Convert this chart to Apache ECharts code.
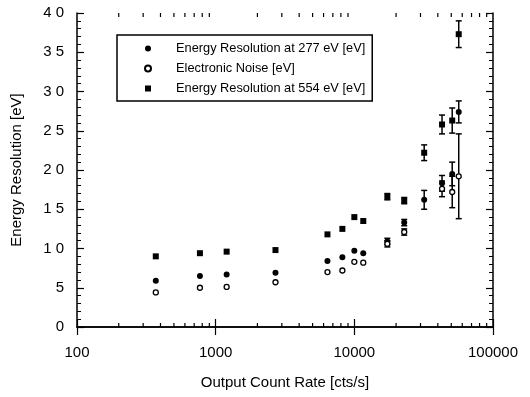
<!DOCTYPE html>
<html>
<head>
<meta charset="utf-8">
<script src="https://cdn.jsdelivr.net/npm/echarts@6/dist/echarts.min.js"></script>
<style>html,body{margin:0;padding:0;background:#fff}#c{width:530px;height:397px}</style>
</head>
<body>
<div id="c"></div>
<script>
// Output count rates [cts/s]
var rates    = [370, 770, 1200, 2700, 6400, 8200, 10000, 11600, 17300, 22900, 31900, 42900, 50800, 56600];
// Energy resolution at 277 eV [eV]
var res277   = [5.9, 6.5, 6.7, 6.9, 8.4, 8.9, 9.7, 9.4, 10.9, 13.3, 16.2, 18.3, 19.5, 27.4];
var err277   = [0, 0, 0, 0, 0, 0, 0, 0, 0.4, 0.4, 1.2, 1.0, 1.5, 1.4];
// Electronic noise [eV]
var noise    = [4.4, 5.0, 5.1, 5.7, 7.0, 7.2, 8.3, 8.2, 10.6, 12.1, null, 17.6, 17.2, 19.2];
var errNoise = [0, 0, 0, 0, 0, 0, 0, 0, 0.4, 0.4, 0, 1.0, 2.0, 5.4];
// Energy resolution at 554 eV [eV]
var res554   = [9.0, 9.4, 9.6, 9.8, 11.8, 12.5, 14.0, 13.5, 16.6, 16.1, 22.2, 25.8, 26.3, 37.3];
var err554   = [0, 0, 0, 0, 0, 0, 0, 0, 0.4, 0.4, 1.0, 1.2, 1.6, 1.7];
// Tick values
var xTicks      = [100, 1000, 10000, 100000];
var xMinorTicks = [200,300,400,500,600,700,800,900,2000,3000,4000,5000,6000,7000,8000,9000,20000,30000,40000,50000,60000,70000,80000,90000];

var names = ['Energy Resolution at 277 eV [eV]', 'Electronic Noise [eV]', 'Energy Resolution at 554 eV [eV]'];
var icons = ['circle', 'circle', 'rect'];

function pairs(ys) {
  var out = [];
  for (var i = 0; i < rates.length; i++) if (ys[i] != null) out.push([rates[i], ys[i]]);
  return out;
}
function triples(ys, es) {
  var out = [];
  for (var i = 0; i < rates.length; i++) if (ys[i] != null && es[i] > 0) out.push([rates[i], ys[i], es[i]]);
  return out;
}
function errRender(params, api) {
  var x = api.value(0), y = api.value(1), e = api.value(2);
  var lo = api.coord([x, y - e]), hi = api.coord([x, y + e]);
  var c = 3;
  return {
    type: 'group',
    children: [
      {type: 'line', shape: {x1: lo[0], y1: lo[1], x2: hi[0], y2: hi[1]}, style: {stroke: '#000', lineWidth: 1.5}},
      {type: 'line', shape: {x1: lo[0]-c, y1: lo[1], x2: lo[0]+c, y2: lo[1]}, style: {stroke: '#000', lineWidth: 1.5}},
      {type: 'line', shape: {x1: hi[0]-c, y1: hi[1], x2: hi[0]+c, y2: hi[1]}, style: {stroke: '#000', lineWidth: 1.5}}
    ]
  };
}
function minorRender(params, api) {
  var v = api.value(0);
  var b = api.coord([v, 0]), t = api.coord([v, 40]);
  return {
    type: 'group',
    children: [
      {type: 'line', shape: {x1: b[0], y1: b[1], x2: b[0], y2: b[1]-4}, style: {stroke: '#000', lineWidth: 1.2}},
      {type: 'line', shape: {x1: t[0], y1: t[1], x2: t[0], y2: t[1]+4}, style: {stroke: '#000', lineWidth: 1.2}}
    ]
  };
}

var chart = echarts.init(document.getElementById('c'), null, {renderer: 'canvas'});
var axisFont = 'Liberation Sans, Arial, sans-serif';
var baseY = {
  type: 'value', min: 0, max: 40, interval: 5,
  axisLine: {show: true, lineStyle: {color: '#000', width: 1.5}},
  axisTick: {show: true, inside: true, length: 7, lineStyle: {color: '#000', width: 1.2}},
  minorTick: {show: true, splitNumber: 5, length: 4, lineStyle: {color: '#000', width: 1}},
  splitLine: {show: false}
};
var baseX = {
  type: 'log', logBase: 10, min: 100, max: 100000,
  axisLine: {show: true, lineStyle: {color: '#000', width: 1.5}},
  axisTick: {show: true, inside: true, length: 8, lineStyle: {color: '#000', width: 1.2}},
  splitLine: {show: false}
};

chart.setOption({
  animation: false,
  backgroundColor: '#fff',
  grid: {left: 77, right: 37, top: 13, bottom: 70},
  legend: {
    data: names.map(function (n, i) { return {name: n, icon: icons[i]}; }),
    orient: 'vertical',
    left: 117, top: 35,
    padding: [7, 7, 6, 27],
    itemWidth: 6, itemHeight: 6, itemGap: 7,
    borderColor: '#000', borderWidth: 1.5,
    backgroundColor: '#fff',
    textStyle: {fontFamily: axisFont, fontSize: 12.8, color: '#000', padding: [0, 0, 0, 20]}
  },
  xAxis: [
    Object.assign({}, baseX, {
      position: 'bottom',
      name: 'Output Count Rate [cts/s]', nameLocation: 'middle', nameGap: 48,
      nameTextStyle: {fontFamily: axisFont, fontSize: 15, color: '#000'},
      axisLabel: {show: true, margin: 18, fontFamily: axisFont, fontSize: 15, color: '#000',
        formatter: function (v) { return xTicks.indexOf(v) >= 0 ? String(v) : ''; }}
    }),
    Object.assign({}, baseX, {position: 'top', axisLabel: {show: false}})
  ],
  yAxis: [
    Object.assign({}, baseY, {
      position: 'left',
      name: 'Energy Resolution [eV]', nameLocation: 'middle', nameGap: 53,
      nameTextStyle: {fontFamily: axisFont, fontSize: 15, color: '#000'},
      axisLabel: {show: true, margin: 13, fontFamily: axisFont, fontSize: 15, color: '#000',
        formatter: function (v) { return String(v).split('').join(' '); }}
    }),
    Object.assign({}, baseY, {position: 'right', axisLabel: {show: false}})
  ],
  series: [
    {type: 'custom', name: 'minor', renderItem: minorRender, data: xMinorTicks.map(function (v) { return [v, 0]; }), clip: false, silent: true, z: 1},
    {type: 'custom', name: 'e277', renderItem: errRender, data: triples(res277, err277), silent: true, z: 2},
    {type: 'custom', name: 'eN', renderItem: errRender, data: triples(noise, errNoise), silent: true, z: 2},
    {type: 'custom', name: 'e554', renderItem: errRender, data: triples(res554, err554), silent: true, z: 2},
    {type: 'scatter', name: names[0], data: pairs(res277), symbol: 'circle', symbolSize: 6,
      itemStyle: {color: '#000', opacity: 1}, z: 3},
    {type: 'scatter', name: names[1], data: pairs(noise), symbol: 'circle', symbolSize: 5,
      itemStyle: {color: '#fff', borderColor: '#000', borderWidth: 1.3, opacity: 1}, z: 4},
    {type: 'scatter', name: names[2], data: pairs(res554), symbol: 'rect', symbolSize: 6,
      itemStyle: {color: '#000', opacity: 1}, z: 3}
  ]
});
</script>
</body>
</html>
